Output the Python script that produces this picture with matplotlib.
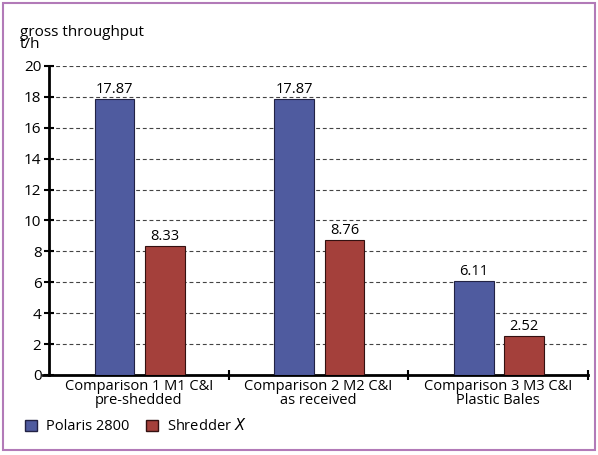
import matplotlib.pyplot as plt
from matplotlib.patches import Rectangle, Patch
import numpy as np

categories = ["Comparison 1 M1 C&I\npre-shedded",
              "Comparison 2 M2 C&I\nas received",
              "Comparison 3 M3 C&I\nPlastic Bales"]
polaris = [17.87, 17.87, 6.11]
shredder = [8.33, 8.76, 2.52]
yticks = list(range(0, 21, 2))

blue = "#4f5b9f"
red = "#a4403b"

plt.rcParams['font.family'] = ['Open Sans', 'DejaVu Sans']

fig = plt.figure(figsize=(5.98, 4.55), dpi=100)
fig.patches.append(Rectangle((0.005, 0.01), 0.99, 0.983, transform=fig.transFigure,
                             fill=False, edgecolor="#b27ab8", linewidth=1.5))
ax = fig.add_axes([0.082, 0.176, 0.901, 0.679])

x = np.arange(len(categories))
w = 0.22
b1 = ax.bar(x - 0.135, polaris, w, color=blue, edgecolor="#222244", linewidth=0.8, zorder=3)
b2 = ax.bar(x + 0.145, shredder, w, color=red, edgecolor="#331111", linewidth=0.8, zorder=3)
for rect, v in zip(list(b1) + list(b2), polaris + shredder):
    ax.text(rect.get_x() + rect.get_width() / 2, v + 0.12, f"{v:.2f}",
            ha="center", va="bottom", fontsize=10.5)

ax.set_xlim(-0.5, 2.5)
ax.set_ylim(0, 20)
ax.set_yticks(yticks)
ax.tick_params(axis="y", direction="inout", length=7, width=1.5, labelsize=11, pad=2)
ax.set_xticks([0.5, 1.5, 2.5])
ax.set_xticklabels([])
ax.tick_params(axis="x", direction="inout", length=7, width=1.5)
for i, c in enumerate(categories):
    ax.text(i, -0.25, c, ha="center", va="top", fontsize=10.5, linespacing=0.95)
ax.grid(axis="y", linestyle=(0, (3.5, 2.5)), color="#444444", linewidth=0.8, zorder=0)
for s in ["top", "right"]:
    ax.spines[s].set_visible(False)
ax.spines["left"].set_linewidth(2)
ax.spines["bottom"].set_linewidth(2)
ax.spines["left"].set_bounds(0, 20)
ax.spines["bottom"].set_bounds(-0.535, 2.5)

fig.text(0.033, 0.885, "gross throughput\nt/h", fontsize=11, ha="left", va="bottom", linespacing=0.8)

handles = [Patch(facecolor=blue, edgecolor="#222244"), Patch(facecolor=red, edgecolor="#331111")]
fig.legend(handles, ["Polaris 2800", "Shredder $\\it{X}$"], loc="center left",
           bbox_to_anchor=(0.02, 0.063), ncol=2, frameon=False, fontsize=10.5,
           handlelength=0.8, handleheight=0.8, columnspacing=1.2, handletextpad=0.6)

fig.savefig("out.png", dpi=100)
